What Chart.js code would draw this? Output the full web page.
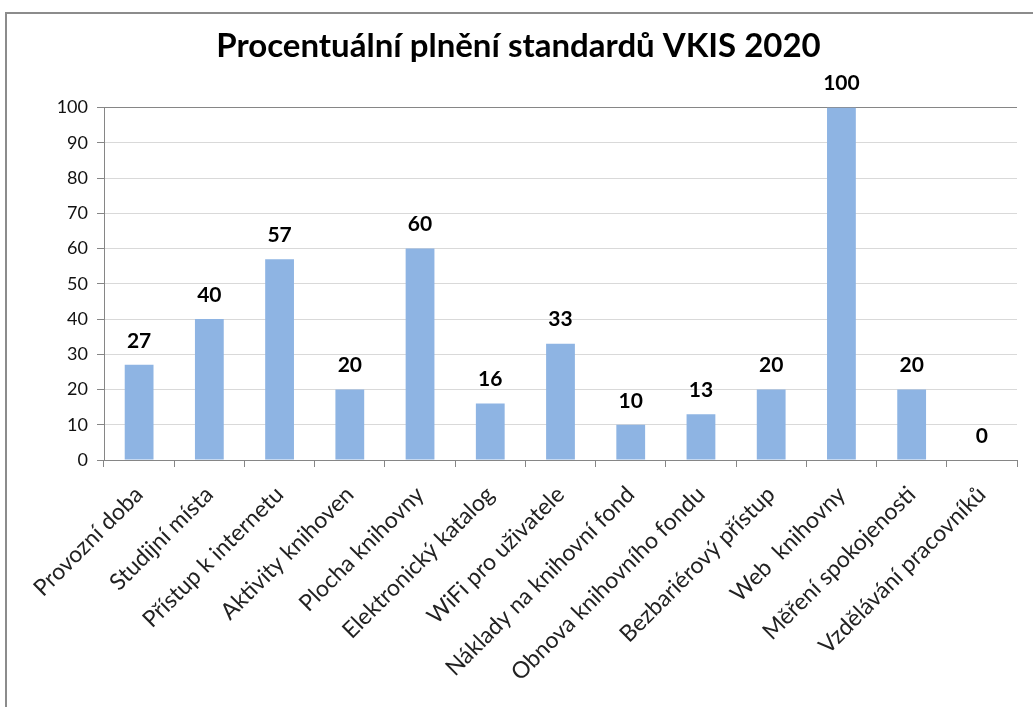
<!DOCTYPE html>
<html>
<head>
<meta charset="utf-8">
<script src="https://cdn.jsdelivr.net/npm/chart.js@4"></script>
<style>
  html, body { margin: 0; padding: 0; background: #fff; overflow: hidden; }
  #wrap { position: relative; width: 1033px; height: 707px; }
  #frame { position: absolute; left: 5px; top: 12px; width: 1100px; height: 800px;
           border-left: 2px solid #8c8c8c; border-top: 2px solid #8c8c8c; }
  canvas { position: absolute; left: 0; top: 0; }
</style>
</head>
<body>
<div id="wrap">
  <div id="frame"></div>
  <canvas id="chart" width="1033" height="707"></canvas>
</div>
<script>
// Procentuální plnění standardů VKIS 2020

const categories = [
  'Provozní doba', 'Studijní místa', 'Přístup k internetu', 'Aktivity knihoven',
  'Plocha knihovny', 'Elektronický katalog', 'WiFi pro uživatele',
  'Náklady na knihovní fond', 'Obnova knihovního fondu', 'Bezbariérový přístup',
  'Web  knihovny', 'Měření spokojenosti', 'Vzdělávání pracovníků'
];
const values = [27, 40, 57, 20, 60, 16, 33, 10, 13, 20, 100, 20, 0];
const yTicks = [0, 10, 20, 30, 40, 50, 60, 70, 80, 90, 100];

const FONT = 'Lato';
const BAR_COLOR = '#8eb4e3';
const AXIS_COLOR = '#868686';
const GRID_COLOR = '#d9d9d9';

// value labels above each bar
const valueLabels = {
  id: 'valueLabels',
  afterDatasetsDraw(chart) {
    const ctx = chart.ctx;
    const meta = chart.getDatasetMeta(0);
    ctx.save();
    ctx.font = `bold 21px ${FONT}`;
    ctx.fillStyle = '#000';
    ctx.textAlign = 'center';
    ctx.textBaseline = 'middle';
    meta.data.forEach((bar, i) => {
      ctx.fillText(String(values[i]), bar.x, bar.y - 24);
    });
    ctx.restore();
  }
};

new Chart(document.getElementById('chart'), {
  type: 'bar',
  data: {
    labels: categories,
    datasets: [{
      data: values,
      backgroundColor: BAR_COLOR,
      borderWidth: 0,
      categoryPercentage: 1,
      barPercentage: 0.41,
    }]
  },
  options: {
    responsive: false,
    animation: false,
    layout: { padding: { left: 20, right: 16, top: 0, bottom: 0 } },
    plugins: {
      legend: { display: false },
      tooltip: { enabled: false },
      title: {
        display: true,
        text: 'Procentuální plnění standardů VKIS 2020',
        color: '#000',
        font: { family: FONT, size: 33, weight: 'bold', lineHeight: 1.2 },
        padding: { top: 27, bottom: 41 },
      },
    },
    scales: {
      x: {
        grid: {
          drawOnChartArea: false,
          drawTicks: true,
          tickLength: 7,
          tickColor: AXIS_COLOR,
        },
        border: { color: AXIS_COLOR, width: 1 },
        ticks: {
          color: '#222',
          font: { family: FONT, size: 23 },
          minRotation: 45,
          maxRotation: 45,
          autoSkip: false,
          padding: 14,
        },
        afterFit(scale) { scale.height = 247; },
      },
      y: {
        min: 0,
        max: 100,
        afterBuildTicks(scale) { scale.ticks = yTicks.map(v => ({ value: v })); },
        grid: {
          color: ctx => (ctx.tick && ctx.tick.value === 100 ? AXIS_COLOR : GRID_COLOR),
          tickColor: AXIS_COLOR,
          tickLength: 7,
          lineWidth: 1,
        },
        border: { color: AXIS_COLOR, width: 1 },
        ticks: {
          color: '#111',
          font: { family: FONT, size: 18 },
          padding: 9,
        },
        afterFit(scale) { scale.width = 84; },
      },
    },
  },
  plugins: [valueLabels],
});
</script>
</body>
</html>
